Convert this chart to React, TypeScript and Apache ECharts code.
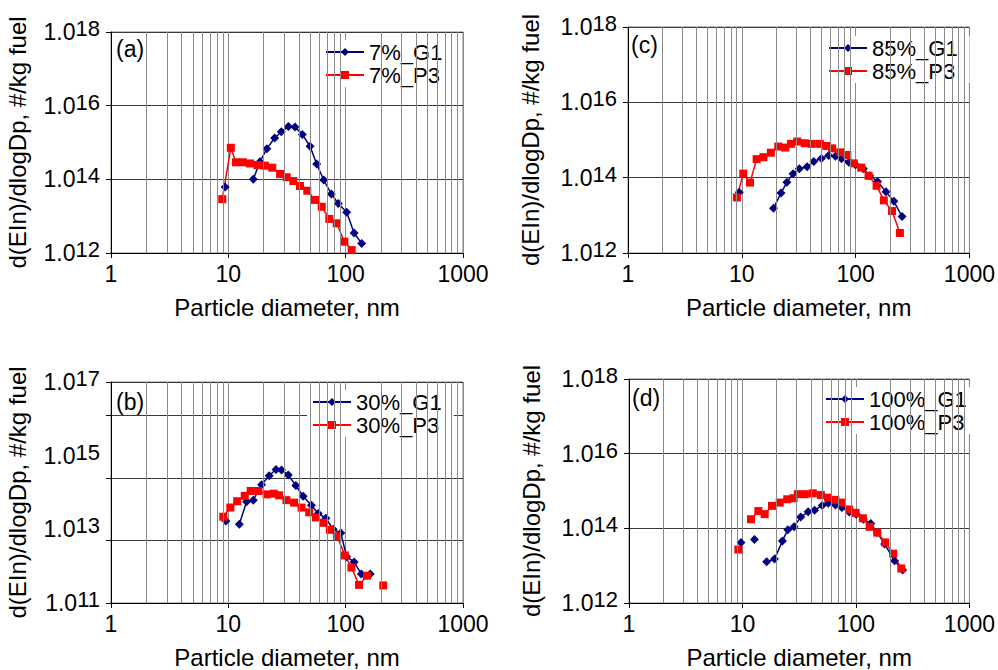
import React, { useEffect, useRef } from 'react';
import * as echarts from 'echarts';

// ---------- data (diameter nm, dN/dlogDp #/kg fuel); null = gap in the line ----------
const xTickMinor = [2, 3, 4, 5, 6, 7, 8, 9, 20, 30, 40, 50, 60, 70, 80, 90, 200, 300, 400, 500, 600, 700, 800, 900];

const aG1D = [9.4, null, 16.3, 18.6, 21.3, 24.8, 28.3, 32.5, 37, 42.7, 49.7, 56.6, 65, 75.5, 86.5, 102, 118, 137];
const aG1V = [6.2e13, null, 1.0e14, 3.0e14, 6.8e14, 1.32e15, 1.96e15, 2.7e15, 2.65e15, 1.66e15, 7.9e14, 2.6e14, 9.6e13, 4.0e13, 2.2e13, 1.28e13, 3.5e12, 1.8e12];
const aP3D = [8.88, 10.5, 11.6, 13.3, 15.3, 17.7, 20.5, 23.7, 27.6, 31.4, 35.8, 40.8, 47.1, 54.8, 62.5, 72.5, 83.9, 97.3, 112.5];
const aP3V = [2.9e13, 7.2e14, 2.9e14, 2.9e14, 2.7e14, 2.45e14, 2.35e14, 2.07e14, 1.4e14, 1.14e14, 9.0e13, 6.6e13, 4.9e13, 2.76e13, 1.8e13, 8.4e12, 6.4e12, 2.03e12, 1.2e12];

const bG1D = [9.53, null, 12.4, 14.3, 16.3, 19.2, 22.3, 25.5, 28.4, 32.4, 37.6, 43.4, 51.1, 58.3, 67.8, 78.2, 90.9, 102, 118, 136, 162];
const bG1V = [1.69e13, null, 1.38e13, 5.6e13, 6.2e13, 1.62e14, 2.87e14, 4.2e14, 4.1e14, 3.0e14, 1.55e14, 7.9e13, 4.5e13, 2.7e13, 2.0e13, 1.0e13, 7.9e12, 1.8e12, 1.3e12, 6.1e11, 6.1e11];
const bP3D = [9.05, 10.4, 11.9, 13.8, 15.5, 18, 21.2, 24.4, 27.1, 31.3, 36.4, 42.1, 48.9, 55.7, 64.3, 73.3, 84.6, 98.4, 112, 130, 152, null, 209];
const bP3V = [2.2e13, 3.9e13, 5.8e13, 8.1e13, 1.1e14, 1.1e14, 8.9e13, 9.3e13, 8.4e13, 6.2e13, 5.3e13, 3.9e13, 2.9e13, 2.1e13, 1.5e13, 9.7e12, 6.5e12, 1.96e12, 9.2e11, 3.1e11, 5.5e11, null, 3.0e11];

const cG1D = [9.5, null, 19.0, 22.1, 24.9, 28.2, 32.0, 37.5, 42.9, 50.0, 58.0, 66.4, 75.2, 87.2, 100, 117, 133, 156, 185, 217, 256];
const cG1V = [4.1e13, null, 1.55e13, 3.9e13, 7.6e13, 1.28e14, 1.72e14, 1.95e14, 2.68e14, 3.25e14, 3.9e14, 3.7e14, 3.2e14, 2.55e14, 2.2e14, 1.72e14, 1.13e14, 7.9e13, 4.2e13, 2.35e13, 9.3e12];
const cP3D = [9.05, 10.3, 11.8, 13.5, 15.5, 18.0, 20.9, 24.1, 27.0, 30.7, 35.7, 41.2, 48.5, 55.3, 62.2, 73.3, 84.6, 96.4, 112, 130, 153, 177, 209, 245];
const cP3V = [2.98e13, 1.28e14, 7.4e13, 3.1e14, 3.5e14, 4.6e14, 6.7e14, 6.3e14, 7.9e14, 9.1e14, 8.2e14, 7.9e14, 7.9e14, 6.95e14, 6.0e14, 4.7e14, 4.0e14, 2.4e14, 1.85e14, 1.12e14, 6.1e13, 2.5e13, 1.3e13, 3.4e12];

const dG1D = [9.7, null, 12.75, null, 16.35, 19.15, 22.5, 25.1, 28.5, 32.6, 37.9, 43.2, 50.4, 57.0, 66.0, 75.1, 87.2, 100.6, 116, 135, 154, 179, 219, 258];
const dG1V = [4.2e13, null, 5.0e13, null, 1.28e13, 1.5e13, 4.6e13, 9.2e13, 1.11e14, 2.0e14, 2.78e14, 3.05e14, 4.1e14, 4.7e14, 4.2e14, 3.6e14, 2.75e14, 2.4e14, 1.75e14, 1.35e14, 7.7e13, 3.8e13, 1.35e13, 7.7e12];
const dP3D = [9.19, null, 11.9, 13.8, 15.7, 18.2, 21.3, 24.8, 28.2, 30.7, 35.5, 41.7, 49.1, 56.7, 65.9, 75.1, 87.2, 99.3, 115, 132, 154, 181, 213, 251];
const dP3V = [2.7e13, null, 1.75e14, 2.9e14, 2.4e14, 4.0e14, 4.9e14, 6.0e14, 6.4e14, 8.2e14, 8.2e14, 8.7e14, 7.8e14, 6.65e14, 5.8e14, 4.9e14, 3.2e14, 2.6e14, 1.86e14, 1.1e14, 7.7e13, 4.2e13, 2.1e13, 8.4e12];

const panelLabels = ['(a)', '(b)', '(c)', '(d)'];
const seriesNames = [
  ['7%_G1', '7%_P3'],
  ['30%_G1', '30%_P3'],
  ['85%_G1', '85%_P3'],
  ['100%_G1', '100%_P3'],
];
const bGridBase = 50; // panel (b) gridline spacing (log base)

const FONT = '"Liberation Sans", Arial, sans-serif';
const NAVY = '#000080';
const RED = '#ff0000';

function pairs(d: (number | null)[], v: (number | null)[]) {
  return d.map((x, i) => (x == null || v[i] == null ? ['-', '-'] : [x, v[i]]));
}

export default function App() {
  const ref = useRef<HTMLDivElement>(null);
  useEffect(() => {
    if (!ref.current) return;
    const chart = echarts.init(ref.current, undefined, { renderer: 'svg' });

    const grids = [
      { left: 111, top: 32, width: 352, height: 221 },
      { left: 111, top: 382, width: 352, height: 224 },
      { left: 628, top: 27, width: 352, height: 226 },
      { left: 629, top: 379, width: 353, height: 225 },
    ].map((g) => ({ ...g, show: true, borderColor: '#808080', borderWidth: 1, backgroundColor: 'transparent' }));

    const titlePos = [
      { left: 116, top: 37 },
      { left: 116, top: 390 },
      { left: 631, top: 33 },
      { left: 632, top: 386 },
    ];
    const legendPos = [
      { left: 320, top: 40 },
      { left: 307, top: 390 },
      { left: 823, top: 36 },
      { left: 820, top: 387 },
    ];
    const yNameGap = [82, 82, 86, 86];

    const data = [
      [pairs(aG1D, aG1V), pairs(aP3D, aP3V)],
      [pairs(bG1D, bG1V), pairs(bP3D, bP3V)],
      [pairs(cG1D, cG1V), pairs(cP3D, cP3V)],
      [pairs(dG1D, dG1V), pairs(dP3D, dP3V)],
    ];

    const labelRich = {
      m: { fontSize: 23, fontFamily: FONT, color: '#000' },
      s: { fontSize: 22, fontFamily: FONT, color: '#000', padding: [0, 0, 7, 0] },
    };
    const yFormatter = (keep: (e: number) => boolean) => (v: number) => {
      const e = Math.round(Math.log10(v));
      return keep(e) ? `{m|1.0}{s|${e}}` : '';
    };

    const yName = 'd(EIn)/dlogDp, #/kg fuel';
    const nameStyle = { fontSize: 24, color: '#000', fontFamily: FONT };

    const xAxes = grids.map((_, i) => ({
      type: 'log',
      logBase: 10,
      gridIndex: i,
      min: 1,
      max: 1000,
      name: 'Particle diameter, nm',
      nameLocation: 'middle',
      nameGap: 42,
      nameTextStyle: nameStyle,
      axisLine: { show: true, lineStyle: { color: '#000', width: 1 } },
      axisTick: { show: true, length: 5, lineStyle: { color: '#000' } },
      axisLabel: { fontSize: 23, fontFamily: FONT, color: '#000', margin: 9, formatter: (v: number) => String(v) },
      splitLine: { show: true, lineStyle: { color: '#8a8a8a', width: 1 } },
      minorTick: { show: false },
    }));

    const yAxes: any[] = grids.map((_, i) => {
      const isB = i === 1;
      return {
        type: 'log',
        logBase: isB ? 10 : 100,
        gridIndex: i,
        min: isB ? 1e11 : 1e12,
        max: isB ? 1e17 : 1e18,
        name: yName,
        nameLocation: 'middle',
        nameGap: yNameGap[i],
        nameTextStyle: nameStyle,
        axisLine: { show: true, lineStyle: { color: '#000', width: 1 } },
        axisTick: { show: !isB, length: 5, lineStyle: { color: '#000' } },
        axisLabel: {
          margin: 11,
          formatter: yFormatter(isB ? (e) => e % 2 === 1 : () => true),
          rich: labelRich,
        },
        splitLine: { show: !isB, lineStyle: { color: '#3a3a3a', width: 1 } },
      };
    });
    // secondary axis for panel (b): gridlines / ticks spaced by log10(50) decades
    yAxes.push({
      type: 'value',
      gridIndex: 1,
      position: 'left',
      min: 0,
      max: 6,
      interval: Math.log10(bGridBase),
      axisLabel: { show: false },
      axisLine: { show: false },
      axisTick: { show: true, length: 5, lineStyle: { color: '#000' } },
      splitLine: { show: true, lineStyle: { color: '#3a3a3a', width: 1 } },
    });

    const series: any[] = [];
    grids.forEach((_, i) => {
      series.push({
        type: 'line',
        xAxisIndex: i,
        yAxisIndex: i,
        data: [],
        z: 1,
        silent: true,
        markLine: {
          silent: true,
          symbol: ['none', 'none'],
          label: { show: false },
          lineStyle: { color: '#8a8a8a', type: 'solid', width: 1 },
          data: xTickMinor.map((v) => ({ xAxis: v })),
        },
      });
      series.push({
        name: seriesNames[i][0],
        type: 'line',
        xAxisIndex: i,
        yAxisIndex: i,
        data: data[i][0],
        symbol: 'diamond',
        symbolSize: 9,
        connectNulls: false,
        lineStyle: { color: NAVY, width: 1.5 },
        itemStyle: { color: NAVY },
        z: 3,
      });
      series.push({
        name: seriesNames[i][1],
        type: 'line',
        xAxisIndex: i,
        yAxisIndex: i,
        data: data[i][1],
        symbol: 'rect',
        symbolSize: 8,
        connectNulls: false,
        lineStyle: { color: RED, width: 1.5 },
        itemStyle: { color: RED },
        z: 3,
      });
    });

    const option: any = {
      animation: false,
      backgroundColor: '#fff',
      textStyle: { fontFamily: FONT },
      grid: grids,
      xAxis: xAxes,
      yAxis: yAxes,
      title: panelLabels.map((t, i) => ({
        text: t,
        ...titlePos[i],
        padding: 0,
        textStyle: { fontSize: 23, fontWeight: 'normal', color: '#000', fontFamily: FONT },
      })),
      legend: seriesNames.map((names, i) => ({
        data: names,
        ...legendPos[i],
        orient: 'vertical',
        itemGap: 1,
        itemWidth: 38,
        itemHeight: 10,
        padding: [1, 12, 1, 5],
        backgroundColor: '#fff',
        selectedMode: false,
        textStyle: { fontSize: 22, color: '#000', fontFamily: FONT },
      })),
      series,
    };
    chart.setOption(option);
    return () => chart.dispose();
  }, []);

  return <div ref={ref} style={{ position: 'fixed', left: 0, top: 0, width: 998, height: 670 }} />;
}
